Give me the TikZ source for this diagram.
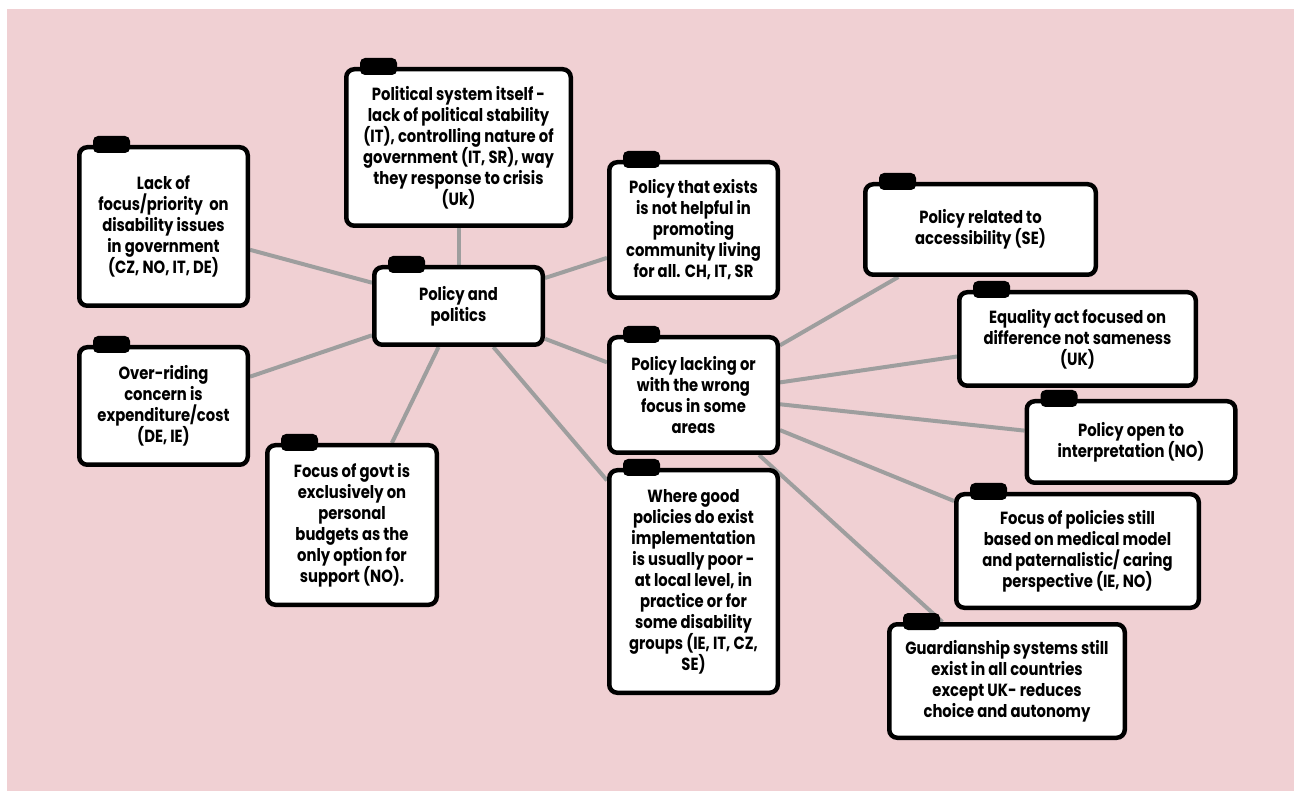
\documentclass[tikz,border=0pt]{standalone}
\usepackage{fontspec}
\setmainfont{Poppins}[FakeStretch=0.84]
\usetikzlibrary{backgrounds,calc}
\definecolor{pinkbg}{RGB}{240,208,211}
\definecolor{linkgray}{RGB}{158,158,158}
\tikzset{
  box/.style n args={2}{draw=black, line width=4.5pt, fill=white, rounded corners=8pt,
    minimum width=#1-4.5pt, minimum height=#2-4.5pt, inner sep=0pt, align=center,
    font=\fontsize{17.6}{21}\selectfont\bfseries},
  link/.style={draw=linkgray, line width=4pt},
  tabfill/.style={fill=black, rounded corners=5pt}
}
\newcommand\boxtab[1]{\fill[tabfill] ($(#1.north west)+(16,-9)$) rectangle ++(37,17);}
\begin{document}
\begin{tikzpicture}[x=1pt,y=-1pt]
\useasboundingbox (0,0) rectangle (1294,791);
\node[box={173}{82}] (ctr) at (458.5,306) {Policy and\\politics};
\node[box={173}{163}] (lack) at (163.5,226.5) {Lack of\\focus/priority\ \ on\\disability issues\\in government\\(CZ, NO, IT, DE)};
\node[box={229}{161}] (polsys) at (458.5,147.5) {Political system itself -\\lack of political stability\\(IT), controlling nature of\\government (IT, SR), way\\they response to crisis\\(Uk)};
\node[box={173}{140}] (exists) at (693.5,230) {Policy that exists\\is not helpful in\\promoting\\community living\\for all. CH, IT, SR};
\node[box={173}{122}] (over) at (163.5,406) {Over-riding\\concern is\\expenditure/cost\\(DE, IE)};
\node[box={174}{164}] (govt) at (352,525) {Focus of govt is\\exclusively on\\personal\\budgets as the\\only option for\\support (NO).};
\node[box={173}{120}] (lacking) at (693.5,395) {Policy lacking or\\with the wrong\\focus in some\\areas};
\node[box={173}{227}] (where) at (693.5,581.5) {Where good\\policies do exist\\implementation\\is usually poor -\\at local level, in\\practice or for\\some disability\\groups (IE, IT, CZ,\\SE)};
\node[box={235}{95}] (access) at (980.5,229.5) {Policy related to\\accessibility (SE)};
\node[box={241}{98}] (equal) at (1077.5,339) {Equality act focused on\\difference not sameness\\(UK)};
\node[box={213}{86}] (open) at (1131,442) {Policy open to\\interpretation (NO)};
\node[box={247}{118}] (focpol) at (1077.5,551) {Focus of policies still\\based on medical model\\and paternalistic/ caring\\perspective (IE, NO)};
\node[box={240}{118}] (guard) at (1007,681) {Guardianship systems still\\exist in all countries\\except UK- reduces\\choice and autonomy};
\foreach \n in {ctr,lack,polsys,exists,over,govt,lacking,where,access,equal,open,focpol,guard}{\boxtab{\n}}
\begin{scope}[on background layer]
  \fill[white] (0,0) rectangle (1294,791);
  \fill[pinkbg] (7,9) rectangle (1294,791);
  \foreach \t in {lack,polsys,exists,over,govt,lacking,where}{\draw[link] (ctr) -- (\t);}
  \foreach \t in {access,equal,open,focpol,guard}{\draw[link] (lacking) -- (\t);}
\end{scope}
\end{tikzpicture}
\end{document}
